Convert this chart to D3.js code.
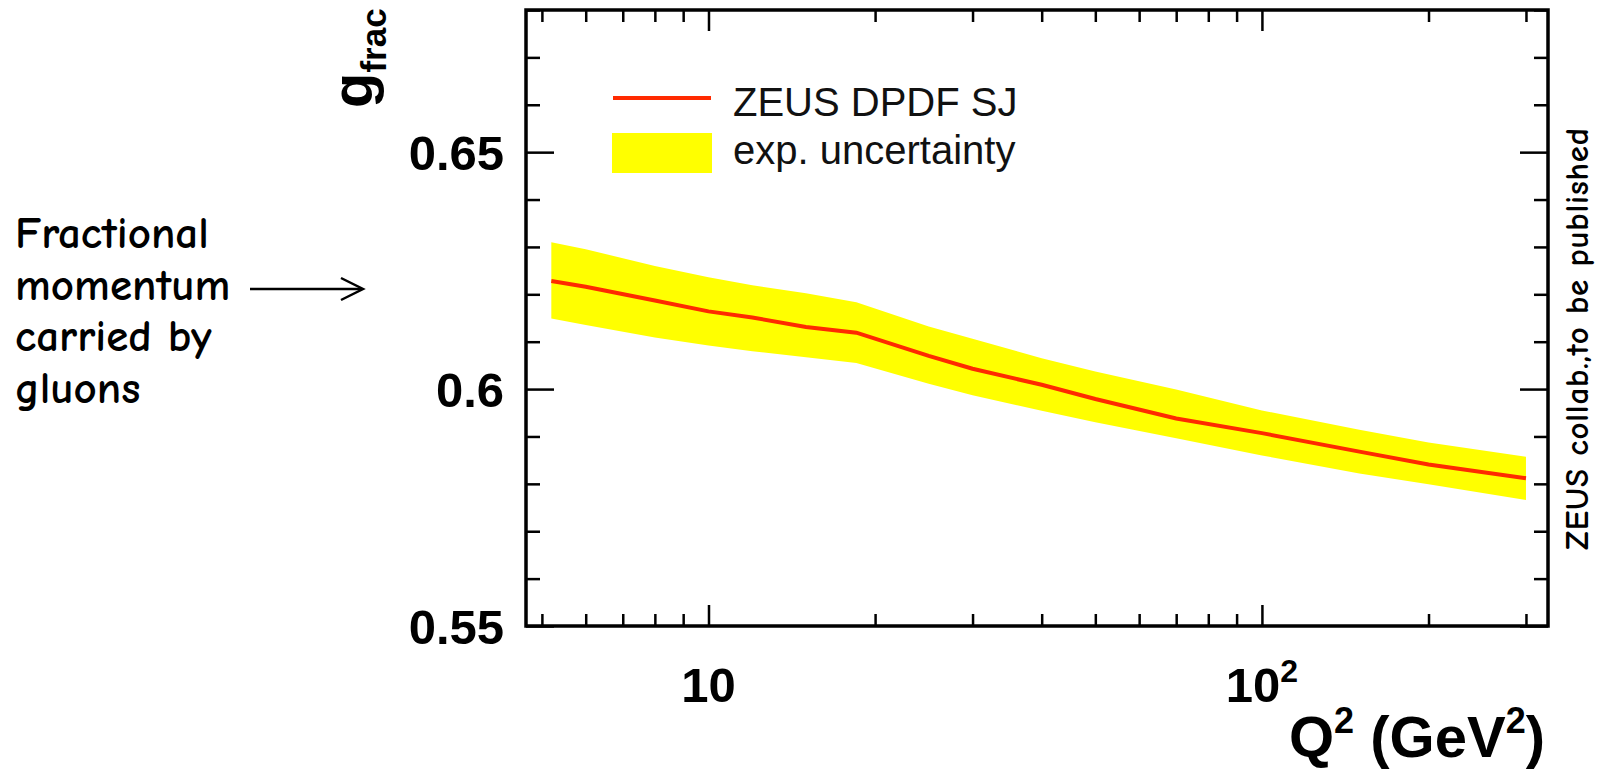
<!DOCTYPE html>
<html>
<head>
<meta charset="utf-8">
<script src="https://cdn.jsdelivr.net/npm/d3@7"></script>
<style>
  body { margin: 0; background: #fff; }
  svg { display: block; }
</style>
</head>
<body>
<div id="chart"></div>
<script>
// Data
const q2 = [5.2, 6, 8, 10, 12, 15, 18.5, 25, 30, 40, 50, 70, 100, 150, 200, 300];
const gfrac = [0.6228, 0.6216, 0.6187, 0.6164, 0.6151, 0.6131, 0.6119, 0.6070, 0.6043, 0.6009, 0.5979, 0.5938, 0.5907, 0.5868, 0.5841, 0.5812];
const bandHigh = [0.6310, 0.6295, 0.6260, 0.6236, 0.6219, 0.6202, 0.6183, 0.6132, 0.6106, 0.6065, 0.6037, 0.5999, 0.5955, 0.5914, 0.5887, 0.5857];
const bandLow = [0.6149, 0.6135, 0.6109, 0.6092, 0.6080, 0.6067, 0.6055, 0.6011, 0.5987, 0.5954, 0.5930, 0.5896, 0.5860, 0.5822, 0.5799, 0.5766];

// Tick values
const xMajor = [10, 100];
const xMinor = [5, 6, 7, 8, 9, 20, 30, 40, 50, 60, 70, 80, 90, 200, 300];
const yMajor = [0.55, 0.6, 0.65];
const yMinor = [0.56, 0.57, 0.58, 0.59, 0.61, 0.62, 0.63, 0.64, 0.66, 0.67, 0.68];
const yLabels = ["0.55", "0.6", "0.65"];
const legendLabels = ["ZEUS DPDF SJ", "exp. uncertainty"];
const noteLines = ["Fractional", "momentum", "carried by", "gluons"];

const W = 1608, H = 776;
const frame = { left: 526, right: 1548, top: 10, bottom: 626 };
const helv = "'Liberation Sans', Arial, Helvetica, sans-serif";
const comic = "'Comic Sans MS', 'Comic Neue', 'DejaVu Sans', sans-serif";

const svg = d3.select("#chart").append("svg")
  .attr("width", W)
  .attr("height", H);

const x = d3.scaleLog().domain([4.68, 328.8]).range([frame.left, frame.right]);
const y = d3.scaleLinear().domain([0.55, 0.68]).range([frame.bottom, frame.top]);

const data = q2.map((q, i) => ({ q: q, v: gfrac[i], lo: bandLow[i], hi: bandHigh[i] }));

// uncertainty band
svg.append("path")
  .datum(data)
  .attr("fill", "#ffff00")
  .attr("d", d3.area().x(d => x(d.q)).y0(d => y(d.lo)).y1(d => y(d.hi)));

// central line
svg.append("path")
  .datum(data)
  .attr("fill", "none")
  .attr("stroke", "#ff2a00")
  .attr("stroke-width", 4)
  .attr("d", d3.line().x(d => x(d.q)).y(d => y(d.v)));

// helper to draw ticks only (ROOT style, inside the frame)
function ticks(axisFn, scale, values, size, tx, ty) {
  const g = svg.append("g")
    .attr("transform", "translate(" + tx + "," + ty + ")")
    .call(axisFn(scale).tickValues(values).tickSize(size).tickFormat(""));
  g.select(".domain").remove();
  g.selectAll("line").attr("stroke", "#000").attr("stroke-width", 2.5);
  return g;
}

// x ticks bottom & top
ticks(d3.axisBottom, x, xMajor, -21, 0, frame.bottom);
ticks(d3.axisBottom, x, xMinor, -12, 0, frame.bottom);
ticks(d3.axisTop, x, xMajor, -21, 0, frame.top);
ticks(d3.axisTop, x, xMinor, -12, 0, frame.top);
// y ticks left & right
ticks(d3.axisLeft, y, yMajor, -28, frame.left, 0);
ticks(d3.axisLeft, y, yMinor, -14, frame.left, 0);
ticks(d3.axisRight, y, yMajor, -28, frame.right, 0);
ticks(d3.axisRight, y, yMinor, -14, frame.right, 0);

// frame
svg.append("rect")
  .attr("x", frame.left).attr("y", frame.top)
  .attr("width", frame.right - frame.left).attr("height", frame.bottom - frame.top)
  .attr("fill", "none")
  .attr("stroke", "#000")
  .attr("stroke-width", 3.5);

// y labels
svg.selectAll(".ylab")
  .data(yMajor)
  .enter().append("text")
  .attr("class", "ylab")
  .attr("x", frame.left - 22)
  .attr("y", d => y(d))
  .attr("dy", "0.36em")
  .attr("text-anchor", "end")
  .style("font-family", helv)
  .style("font-weight", "bold")
  .style("font-size", "49px")
  .text((d, i) => yLabels[i]);

// x labels: 10 and 10^2
const xl = svg.selectAll(".xlab")
  .data(xMajor)
  .enter().append("text")
  .attr("class", "xlab")
  .attr("x", d => x(d))
  .attr("y", 702)
  .attr("text-anchor", "middle")
  .style("font-family", helv)
  .style("font-weight", "bold")
  .style("font-size", "49px");
xl.append("tspan").text("10");
xl.filter(d => d === 100).append("tspan")
  .attr("dy", -20)
  .style("font-size", "32px")
  .text("2");

// x axis title
const xt = svg.append("text")
  .attr("x", 1545)
  .attr("y", 757)
  .attr("text-anchor", "end")
  .style("font-family", helv)
  .style("font-weight", "bold")
  .style("font-size", "58px");
xt.append("tspan").text("Q");
xt.append("tspan").attr("dy", -24).style("font-size", "36px").text("2");
xt.append("tspan").attr("dy", 24).text(" (GeV");
xt.append("tspan").attr("dy", -24).style("font-size", "36px").text("2");
xt.append("tspan").attr("dy", 24).text(")");

// y axis title g_frac
const yt = svg.append("text")
  .attr("transform", "translate(372,108) rotate(-90)")
  .attr("text-anchor", "start")
  .style("font-family", helv)
  .style("font-weight", "bold")
  .style("font-size", "58px");
yt.append("tspan").text("g");
yt.append("tspan").attr("dy", 14).style("font-size", "35px").text("frac");

// legend
svg.append("line")
  .attr("x1", 613).attr("x2", 711)
  .attr("y1", 98).attr("y2", 98)
  .attr("stroke", "#ff2a00")
  .attr("stroke-width", 4);
svg.append("rect")
  .attr("x", 612).attr("y", 133)
  .attr("width", 100).attr("height", 40)
  .attr("fill", "#ffff00");
svg.selectAll(".leg")
  .data(legendLabels)
  .enter().append("text")
  .attr("class", "leg")
  .attr("x", 733)
  .attr("y", (d, i) => 116 + i * 48)
  .style("font-family", helv)
  .style("font-size", "40px")
  .style("fill", "#111")
  .text(d => d);

// side note on the right
svg.append("text")
  .attr("transform", "translate(1588,339) rotate(-90)")
  .attr("text-anchor", "middle")
  .attr("textLength", 422)
  .style("font-family", comic)
  .style("font-size", "33px")
  .style("font-weight", "bold")
  .text("ZEUS collab.,to be published");

// annotation on the left
svg.selectAll(".note")
  .data(noteLines)
  .enter().append("text")
  .attr("class", "note")
  .attr("x", 15)
  .attr("y", (d, i) => 248 + i * 51.5)
  .style("font-family", comic)
  .style("font-size", "45px")
  .style("font-weight", "bold")
  .text(d => d);

// arrow
svg.append("line")
  .attr("x1", 250).attr("x2", 362)
  .attr("y1", 289).attr("y2", 289)
  .attr("stroke", "#000")
  .attr("stroke-width", 2.5);
svg.append("path")
  .attr("d", "M341,278 L363,289 L341,300")
  .attr("fill", "none")
  .attr("stroke", "#000")
  .attr("stroke-width", 2.5);
</script>
</body>
</html>
